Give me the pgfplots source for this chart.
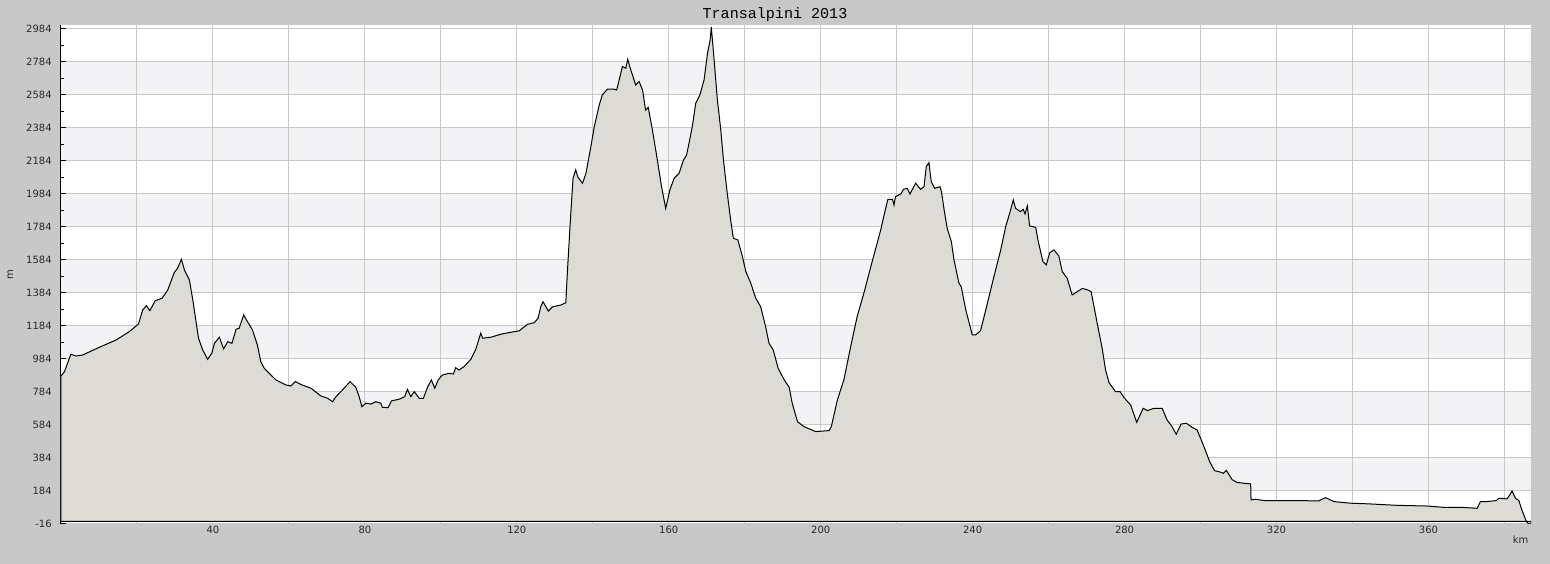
\documentclass[border=0pt]{standalone}
\usepackage{fontspec}
\setmainfont{DejaVu Sans}
\newfontfamily\titlefont{Liberation Mono}
\usepackage{pgfplots}
\pgfplotsset{compat=1.18}
\definecolor{bgc}{RGB}{200,200,200}
\definecolor{stripe}{RGB}{243,242,245}
\definecolor{gridc}{RGB}{200,200,200}
\definecolor{fillc}{RGB}{220,219,214}
\definecolor{txt}{RGB}{40,40,40}

\pgfplotstableread{
km    m
0     880
0.9   907
2.6   1013
3.9   1002
5.7   1008
10.1  1055
14.5  1099
18    1150
20.4  1196
21.5  1281
22.5  1307
23.4  1277
24.8  1337
26.6  1352
28.1  1402
29.8  1507
30.7  1534
31.7  1588
32.5  1523
33.8  1463
34.7  1342
36.2  1110
37.3  1039
38.6  982
39.7  1019
40.4  1079
41.7  1116
42.8  1045
43.9  1089
45    1079
46.1  1164
46.9  1170
48.1  1251
49.1  1210
50.4  1160
51.7  1069
52.6  968
53.5  928
54.8  897
56.6  857
59.2  827
60.5  820
61.7  847
63.2  829
65.8  807
68.4  760
70.2  746
71.5  725
72.4  756
74.1  796
76.1  847
77.6  813
78.5  756
79.2  695
80.3  716
81.6  711
82.9  725
84.2  716
84.6  691
86.1  689
87    730
89    740
90.5  756
91.2  800
92.1  756
93    786
94.3  746
95.4  746
96.5  813
97.5  857
98.4  807
99.3  857
100.4 887
102.2 897
103.3 893
103.9 931
104.8 917
106.1 938
107.9 982
109.2 1043
110.1 1110
110.5 1140
111   1110
113.2 1116
115.8 1134
118.4 1146
120.6 1154
122.8 1194
124.6 1204
125.6 1231
126.3 1301
126.9 1331
128.3 1275
129.4 1300
131.6 1311
132.9 1325
133.3 1503
134   1786
134.8 2079
135.5 2130
136.1 2085
137.3 2049
138.2 2109
139.5 2271
140.4 2392
141.7 2523
142.5 2584
143.9 2620
145.6 2619
146.3 2614
147.8 2756
148.7 2746
149.2 2800
150   2736
151.3 2645
152.2 2665
153.1 2614
153.9 2493
154.6 2509
155.7 2372
157   2190
158.1 2028
159.2 1897
160.3 2008
161.4 2079
162.7 2109
163.9 2190
164.7 2220
166.2 2392
167.1 2534
168.2 2584
169.3 2675
170.2 2837
170.9 2917
171.2 2995
171.8 2837
172.8 2554
173.7 2372
174.4 2190
175.4 1988
176.3 1826
177   1716
178.2 1705
179.4 1604
180.3 1513
181.6 1443
182.9 1352
184.2 1301
185.5 1180
186.4 1079
187.5 1039
188.8 928
190.4 857
191.7 813
192.5 716
193.9 604
195.6 574
198.7 544
202.2 550
202.8 574
204.4 736
206.1 857
207.9 1059
209.6 1241
211.6 1402
213.2 1544
214.5 1655
215.8 1766
216.7 1857
217.7 1952
218.9 1952
219.3 1917
219.7 1968
221.1 1984
221.8 2012
222.8 2018
223.5 1984
225   2049
226.3 2012
227.2 2028
227.8 2150
228.5 2174
229.1 2059
230   2018
231.4 2028
231.8 1998
232.5 1887
233.3 1776
234.4 1695
235.1 1584
236.4 1443
237   1422
238.2 1281
239.9 1130
240.8 1130
242.1 1156
243.9 1322
245.6 1483
247.4 1645
248.7 1786
249.8 1871
250.7 1948
251.3 1897
252.6 1877
253.3 1891
253.8 1863
254.4 1911
255   1790
256.6 1782
257.2 1705
258.5 1574
259.4 1554
260.3 1628
261.4 1645
262.7 1608
263.6 1513
264.9 1473
266.2 1372
268.9 1412
270.3 1402
271.2 1392
272.8 1200
274.1 1049
275   917
275.9 841
277.6 786
278.8 786
280   746
281.6 705
283.2 600
284.9 685
286   671
287.7 685
289.9 685
291.2 614
292.5 574
293.6 528
294.9 590
296.3 594
297.8 570
299.1 554
300.9 453
302.4 362
303.7 307
305.3 298
306   291
306.8 309
308.3 253
309.6 236
311.4 231
313.2 227
313.3 130
314.5 134
316.7 126
324.6 126
331.1 124
332.9 144
335.1 120
339.5 110
344.3 106
351.8 97
359.6 93
364   85
368.4 85
371.5 81
372.8 79
373.7 120
375.4 120
377.9 126
378.5 140
380.7 136
381.4 160
382   184
382.9 140
383.8 126
384.6 69
385.8 -2
386.4 -16
387   -16
}\profile

\begin{document}
\begin{tikzpicture}
\pgfplotsset{set layers}
% grey chart background, 1 px = 0.75pt, kept below everything
\begin{pgfonlayer}{axis background}
\fill[bgc] (-45.75pt,-30pt) rectangle (1116.75pt,393pt);
\end{pgfonlayer}
\begin{axis}[
    scale only axis,
    width=1102.5pt, height=374.25pt,
    at={(0,0)}, anchor=south west,
    xmin=0, xmax=387,
    ymin=-16, ymax=3008,
    axis x line=middle,
    axis y line=left,
    axis line style={-, black, line width=0.75pt},
    tick align=inside,
    tick style={black, line width=0.75pt},
    major tick length=3.5pt,
    minor tick length=2.25pt,
    xtick={20,40,...,380},
    xticklabels={,40,,80,,120,,160,,200,,240,,280,,320,,360,},
    minor xtick={10,30,...,370},
    ytick={-16,184,384,584,784,984,1184,1384,1584,1784,1984,2184,2384,2584,2784,2984},
    yticklabels={-16,184,384,584,784,984,1184,1384,1584,1784,1984,2184,2384,2584,2784,2984},
    minor ytick={84,284,...,2884},
    grid=major,
    major grid style={gridc, line width=0.75pt},
    tick label style={font=\fontsize{7.5}{9}\selectfont, text=txt},
    yticklabel style={xshift=-3.5pt},
    title={\titlefont\fontsize{11.3}{13}\selectfont Transalpini 2013},
    title style={at={(axis description cs:0.4857,1)}, anchor=center, yshift=1.9pt, inner sep=0pt},
    xlabel={km},
    xlabel style={at={(axis description cs:0.993,0)}, anchor=center, yshift=-12pt,
        font=\fontsize{7.5}{9}\selectfont, text=txt},
    ylabel={m},
    ylabel style={at={(axis description cs:0,0.5)}, anchor=center, yshift=38pt,
        font=\fontsize{7.5}{9}\selectfont, text=txt},
]
\begin{pgfonlayer}{axis background}
\fill[white] (axis cs:0,-16) rectangle (axis cs:387,3008);
\fill[stripe] (axis cs:0,184)  rectangle (axis cs:387,384);
\fill[stripe] (axis cs:0,584)  rectangle (axis cs:387,784);
\fill[stripe] (axis cs:0,984)  rectangle (axis cs:387,1184);
\fill[stripe] (axis cs:0,1384) rectangle (axis cs:387,1584);
\fill[stripe] (axis cs:0,1784) rectangle (axis cs:387,1984);
\fill[stripe] (axis cs:0,2184) rectangle (axis cs:387,2384);
\fill[stripe] (axis cs:0,2584) rectangle (axis cs:387,2784);
\end{pgfonlayer}
\addplot[draw=black, line width=0.75pt, fill=fillc] table[x=km, y=m] {\profile} \closedcycle;
\end{axis}
\pgfresetboundingbox
\path[use as bounding box] (-45.75pt,-30pt) rectangle (1116.75pt,393pt);
\end{tikzpicture}
\end{document}
